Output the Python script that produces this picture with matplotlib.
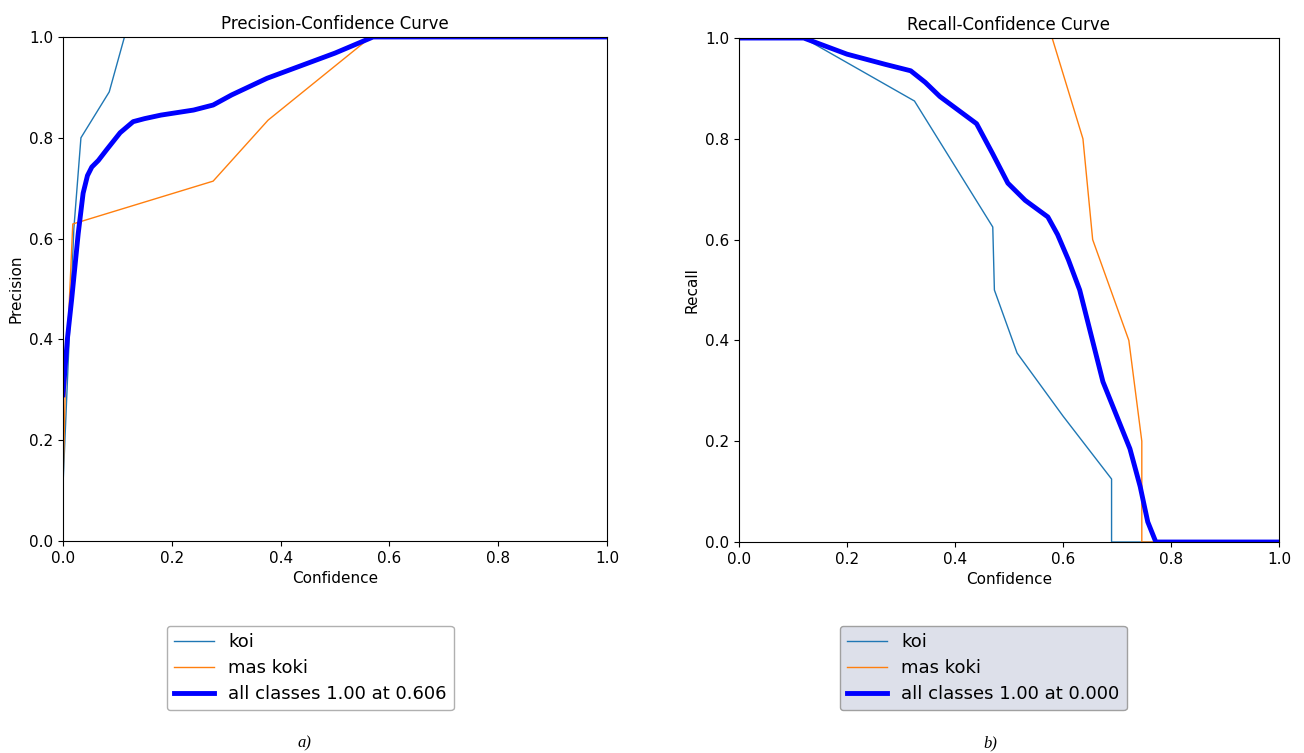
import matplotlib
matplotlib.use("Agg")
import matplotlib.pyplot as plt

# precision-confidence curve
p_koi_x = [0.0, 0.02, 0.033, 0.085, 0.113, 1.0]
p_koi_y = [0.11, 0.62, 0.80, 0.891, 1.0, 1.0]
p_mas_x = [0.0, 0.004, 0.018, 0.276, 0.377, 0.566, 1.0]
p_mas_y = [0.11, 0.29, 0.629, 0.714, 0.835, 1.0, 1.0]
p_all_x = [0.0, 0.008, 0.016, 0.028, 0.037, 0.045, 0.053, 0.065, 0.08, 0.105, 0.129,
           0.15, 0.18, 0.24, 0.276, 0.31, 0.375, 0.43, 0.5, 0.57, 1.0]
p_all_y = [0.29, 0.40, 0.48, 0.61, 0.69, 0.725, 0.742, 0.755, 0.776, 0.81, 0.832,
           0.838, 0.845, 0.855, 0.865, 0.885, 0.918, 0.94, 0.968, 1.0, 1.0]

# recall-confidence curve
r_koi_x = [0.0, 0.12, 0.325, 0.47, 0.473, 0.515, 0.6, 0.69, 0.69, 1.0]
r_koi_y = [1.0, 1.0, 0.875, 0.625, 0.5, 0.375, 0.25, 0.125, 0.0, 0.0]
r_mas_x = [0.0, 0.58, 0.637, 0.655, 0.722, 0.746, 0.746, 1.0]
r_mas_y = [1.0, 1.0, 0.8, 0.6, 0.4, 0.2, 0.0, 0.0]
r_all_x = [0.0, 0.12, 0.2, 0.27, 0.318, 0.345, 0.372, 0.44, 0.47, 0.498, 0.53, 0.572,
           0.59, 0.61, 0.631, 0.674, 0.724, 0.743, 0.757, 0.772, 1.0]
r_all_y = [1.0, 1.0, 0.968, 0.948, 0.935, 0.912, 0.884, 0.83, 0.77, 0.712, 0.678, 0.645,
           0.61, 0.56, 0.5, 0.318, 0.185, 0.11, 0.04, 0.0, 0.0]

labels = ["koi", "mas koki"]
all_p_label = "all classes 1.00 at 0.606"
all_r_label = "all classes 1.00 at 0.000"

fig = plt.figure(figsize=(13.04, 7.53), dpi=100)
ax1 = fig.add_axes([0.0483, 0.2815, 0.4172, 0.6694])
ax2 = fig.add_axes([0.5667, 0.2802, 0.4141, 0.6693])

l1, = ax1.plot(p_koi_x, p_koi_y, color="#1f77b4", lw=1, label=labels[0])
l2, = ax1.plot(p_mas_x, p_mas_y, color="#ff7f0e", lw=1, label=labels[1])
l3, = ax1.plot(p_all_x, p_all_y, color="blue", lw=3.5, label=all_p_label,
               solid_joinstyle="round")

m1, = ax2.plot(r_koi_x, r_koi_y, color="#1f77b4", lw=1, label=labels[0])
m2, = ax2.plot(r_mas_x, r_mas_y, color="#ff7f0e", lw=1, label=labels[1])
m3, = ax2.plot(r_all_x, r_all_y, color="blue", lw=3.5, label=all_r_label,
               solid_joinstyle="round")

for ax, ylab, title in [(ax1, "Precision", "Precision-Confidence Curve"),
                        (ax2, "Recall", "Recall-Confidence Curve")]:
    ax.set_xlim(0, 1)
    ax.set_ylim(0, 1)
    ax.set_xlabel("Confidence", fontsize=11)
    ax.set_ylabel(ylab, fontsize=11)
    ax.set_title(title, fontsize=12)
    ax.tick_params(labelsize=11)

leg1 = fig.legend(handles=[l1, l2, l3], loc="upper center", bbox_to_anchor=(0.238, 0.169),
                  borderaxespad=0, fontsize=13, handlelength=2.2, fancybox=True,
                  framealpha=1, labelspacing=0.45)
leg1.get_frame().set_edgecolor("#b0b0b0")
leg2 = fig.legend(handles=[m1, m2, m3], loc="upper center", bbox_to_anchor=(0.754, 0.169),
                  borderaxespad=0, fontsize=13, handlelength=2.2, fancybox=True,
                  framealpha=1, labelspacing=0.45, facecolor="#dde0ea")
leg2.get_frame().set_edgecolor("#a0a0a0")

fig.text(0.2331, 0.007, "a)", fontsize=12, style="italic", family="Liberation Serif", ha="center")
fig.text(0.7592, 0.007, "b)", fontsize=12, style="italic", family="Liberation Serif", ha="center")

fig.savefig("out.png", dpi=100)
